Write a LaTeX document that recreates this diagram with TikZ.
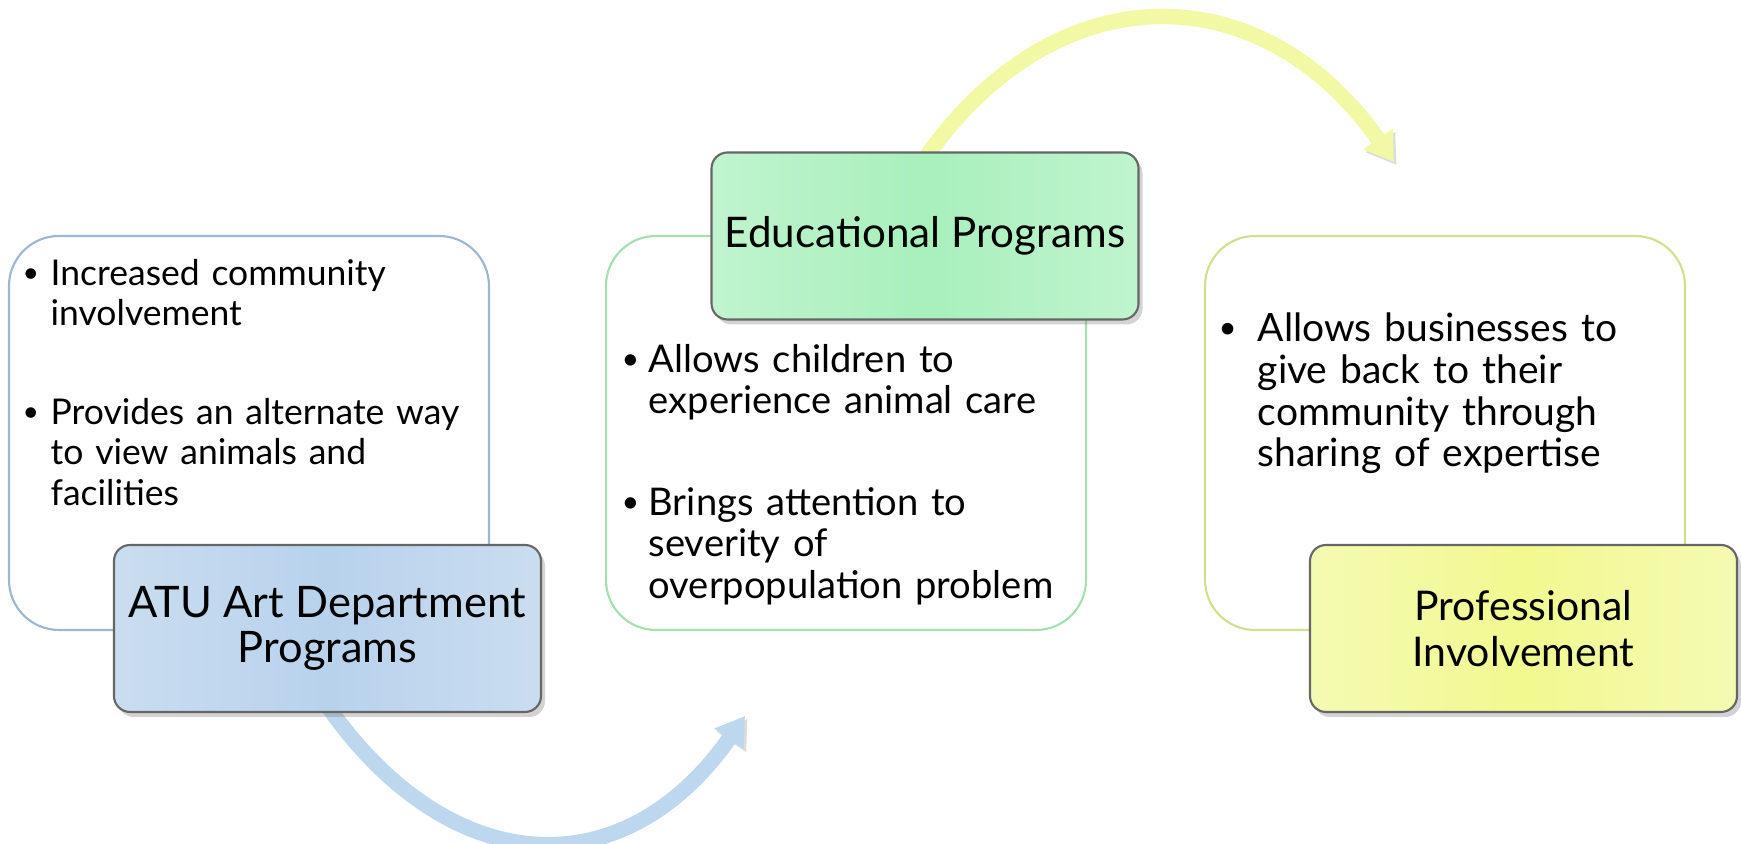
\documentclass[tikz,border=0pt]{standalone}
\usepackage{fontspec}
\setmainfont{Lato}
\usepackage{xcolor}
\usepackage{graphicx}
\usepackage{tikz}
\usetikzlibrary{arrows.meta,positioning,shadows,backgrounds}

\definecolor{atuA}{HTML}{B8D2EC}
\definecolor{atuB}{HTML}{CADDF0}
\definecolor{eduA}{HTML}{A8F0BC}
\definecolor{eduB}{HTML}{C0F4CE}
\definecolor{proA}{HTML}{F1F98F}
\definecolor{proB}{HTML}{F5FAB3}
\definecolor{atuLine}{HTML}{9DB6D1}
\definecolor{eduLine}{HTML}{A2DFB1}
\definecolor{proLine}{HTML}{D3DF8E}
\definecolor{blueArc}{HTML}{BDD7EE}
\definecolor{yellowArc}{HTML}{F2F8A3}

\newcommand{\bpoint}[2]{\par\hangindent=#1\hangafter=1\noindent\makebox[#1][l]{\raisebox{0.07em}{\scalebox{0.8}{\textbullet}}}#2\par}

\begin{document}
\begin{tikzpicture}[
  txtbox/.style={minimum width=4.80cm,minimum height=3.94cm,rounded corners=0.5cm,line width=0.6pt,fill=white},
  headbox/.style={minimum width=4.27cm,minimum height=1.67cm,rounded corners=0.16cm,draw=black!60,line width=0.6pt,align=center,
    drop shadow={shadow xshift=0.04cm,shadow yshift=-0.05cm,opacity=0.35}},
  listtext/.style={anchor=north west,inner sep=0pt,align=left,text width=5.2cm},
  bigarc/.style={line width=0.155cm,-{Triangle[width=0.34cm,length=0.28cm]},
    preaction={draw=black!45,opacity=0.3,transform canvas={shift={(0.025,-0.03)}}}}
]
\useasboundingbox (0,0) rectangle (17.41,8.44);
\node[txtbox,draw=atuLine] (lbox) at (2.49,4.11) {};
\node[txtbox,draw=eduLine] (mbox) at (8.46,4.11) {};
\node[txtbox,draw=proLine] (rbox) at (14.45,4.11) {};
\node[listtext,font=\fontsize{10.1}{11.5}\selectfont] (ltext) at (0.22,6.0) {\bpoint{0.28cm}{Increased community\newline involvement}\vspace{0.585cm}\bpoint{0.28cm}{Provides an alternate way\newline to view animals and\newline facilities}};
\node[listtext,font=\fontsize{10.85}{11.8}\selectfont] (mtext) at (6.21,5.14) {\bpoint{0.27cm}{Allows children to\newline experience animal care}\vspace{0.6cm}\bpoint{0.27cm}{Brings attention to\newline severity of\newline overpopulation problem}};
\node[listtext,font=\fontsize{11.1}{11.9}\selectfont] (rtext) at (12.18,5.45) {\bpoint{0.39cm}{Allows businesses to\newline give back to their\newline community through\newline sharing of expertise}};
\node[headbox,font=\fontsize{12.35}{13}\selectfont,left color=atuB,right color=atuB,middle color=atuA] (atu) at (3.275,2.155) {ATU Art Department\\Programs};
\node[headbox,font=\fontsize{12}{13}\selectfont,left color=eduB,right color=eduB,middle color=eduA] (edu) at (9.25,6.08) {Educational Programs};
\node[headbox,font=\fontsize{11.65}{13}\selectfont,left color=proB,right color=proB,middle color=proA] (prof) at (15.235,2.155) {Professional\\Involvement};
\coordinate (btip) at (7.45,1.28);
\coordinate (ytip) at (13.94,6.82);
\begin{scope}[on background layer]
\draw[bigarc,blueArc] ([yshift=2pt]atu.south) to[out=-55,in=-125,looseness=1.3] (btip);
\draw[bigarc,yellowArc] ([yshift=-2pt]edu.north) to[out=55,in=125,looseness=1.25] (ytip);
\end{scope}
\end{tikzpicture}
\end{document}
